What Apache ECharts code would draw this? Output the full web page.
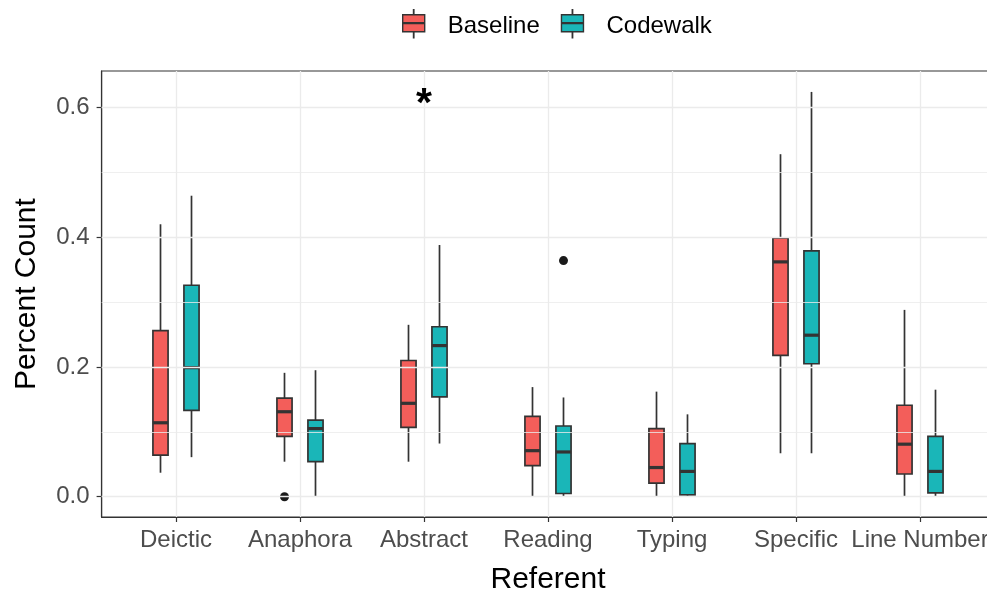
<!DOCTYPE html>
<html>
<head>
<meta charset="utf-8">
<script src="https://cdn.jsdelivr.net/npm/echarts@6/dist/echarts.min.js"></script>
<style>
html,body{margin:0;padding:0;background:#fff;}
#chart{width:987px;height:595px;}
</style>
</head>
<body>
<div id="chart"></div>
<script>
// ---- Data ----
const categories = ['Deictic', 'Anaphora', 'Abstract', 'Reading', 'Typing', 'Specific', 'Line Number'];
const seriesNames = ['Baseline', 'Codewalk'];
// five-number summaries per category: [lower whisker, Q1, median, Q3, upper whisker]
const baselineStats = [
  [0.037, 0.064, 0.114, 0.256, 0.420],
  [0.054, 0.093, 0.131, 0.152, 0.191],
  [0.054, 0.107, 0.144, 0.210, 0.265],
  [0.000, 0.048, 0.071, 0.124, 0.169],
  [0.000, 0.021, 0.045, 0.105, 0.162],
  [0.067, 0.218, 0.362, 0.399, 0.528],
  [0.000, 0.035, 0.081, 0.141, 0.288]
];
const codewalkStats = [
  [0.061, 0.133, 0.199, 0.326, 0.464],
  [0.000, 0.054, 0.105, 0.118, 0.195],
  [0.082, 0.154, 0.233, 0.262, 0.388],
  [0.000, 0.005, 0.069, 0.109, 0.153],
  [0.000, 0.003, 0.039, 0.082, 0.127],
  [0.067, 0.205, 0.249, 0.379, 0.624],
  [0.000, 0.006, 0.039, 0.093, 0.165]
];
// outliers: [category index, value]
const baselineOutliers = [[1, 0.000]];
const codewalkOutliers = [[3, 0.364]];
// annotation: [category index, value, text]
const annotations = [[2, 0.604, '*']];
const yTicks = [0, 0.2, 0.4, 0.6];
const yMinorTicks = [0.1, 0.3, 0.5];

// ---- Styling ----
const colors = ['#F35E5A', '#1AB6B8'];
const DODGE = 0.125;
const HALF = 0.061;
const LINE = '#333333';

function makeRender(offset) {
  return function (params, api) {
    const c = api.value(0) + offset;
    const lo = api.value(1), q1 = api.value(2), med = api.value(3), q3 = api.value(4), hi = api.value(5);
    const tl = api.coord([c - HALF, q3]);
    const br = api.coord([c + HALF, q1]);
    const mTop = api.coord([c, hi]);
    const mBot = api.coord([c, lo]);
    const medL = api.coord([c - HALF, med]);
    const medR = api.coord([c + HALF, med]);
    const fill = api.visual('color');
    return {
      type: 'group',
      children: [
        { type: 'line', shape: { x1: mTop[0], y1: mTop[1], x2: mTop[0], y2: tl[1] }, style: { stroke: LINE, lineWidth: 1.7 } },
        { type: 'line', shape: { x1: mBot[0], y1: br[1], x2: mBot[0], y2: mBot[1] }, style: { stroke: LINE, lineWidth: 1.7 } },
        { type: 'rect', shape: { x: tl[0], y: tl[1], width: br[0] - tl[0], height: br[1] - tl[1] }, style: { fill: fill, stroke: LINE, lineWidth: 1.7 } },
        { type: 'line', shape: { x1: medL[0], y1: medL[1], x2: medR[0], y2: medR[1] }, style: { stroke: LINE, lineWidth: 3.2 } }
      ]
    };
  };
}

function toData(stats) {
  return stats.map((s, i) => [i].concat(s));
}

const gridLines = []
  .concat(yTicks.map(v => ({ yAxis: v, lineStyle: { color: '#EBEBEB', width: 1.3, type: 'solid' } })))
  .concat(yMinorTicks.map(v => ({ yAxis: v, lineStyle: { color: '#EBEBEB', width: 0.8, type: 'solid' } })))
  .concat(categories.map((c, i) => ({ xAxis: i, lineStyle: { color: '#EBEBEB', width: 1.3, type: 'solid' } })));

const legendIcon = 'path://M0,5 L22,5 L22,22 L0,22 Z M0,13.1 L22,13.1 L22,13.9 L0,13.9 Z M10.8,0 L11.2,0 L11.2,5 L10.8,5 Z M10.8,22 L11.2,22 L11.2,28 L10.8,28 Z';

const chart = echarts.init(document.getElementById('chart'), null, { renderer: 'canvas' });
const option = {
  animation: false,
  backgroundColor: '#ffffff',
  textStyle: { fontFamily: '"Liberation Sans", Arial, Helvetica, sans-serif' },
  grid: {
    left: 101.6, top: 71, width: 892.8, height: 446,
    outerBoundsMode: 'none',
    containLabel: false,
    show: true, borderColor: LINE, borderWidth: 1.2, backgroundColor: 'transparent'
  },
  legend: {
    data: seriesNames,
    left: 402, top: 9, padding: 0,
    itemWidth: 22, itemHeight: 28, itemGap: 21,
    icon: legendIcon,
    itemStyle: { borderColor: LINE, borderWidth: 1.4 },
    formatter: name => '{t|' + name + '}',
    textStyle: {
      fontSize: 24, color: '#000', padding: [0, 0, 0, 18],
      rich: { t: { fontSize: 24, color: '#000', padding: [6, 0, 0, 0] } }
    },
    selectedMode: false
  },
  xAxis: {
    type: 'value',
    min: -0.6, max: 6.6,
    name: 'Referent',
    nameLocation: 'middle',
    nameGap: 48,
    nameTextStyle: { fontSize: 30, color: '#000' },
    axisLine: { show: true, onZero: false, lineStyle: { color: LINE, width: 1.2 } },
    axisTick: { show: true, length: 5, customValues: categories.map((c, i) => i), lineStyle: { color: LINE, width: 1.2 } },
    axisLabel: {
      show: true, customValues: categories.map((c, i) => i),
      formatter: v => categories[Math.round(v)] || '',
      fontSize: 24, color: '#4D4D4D', margin: 11
    },
    splitLine: { show: false }
  },
  yAxis: {
    type: 'value',
    min: -0.03125, max: 0.65625,
    name: 'Percent Count',
    nameLocation: 'middle',
    nameGap: 60,
    nameTextStyle: { fontSize: 30, color: '#000' },
    axisLine: { show: true, onZero: false, lineStyle: { color: LINE, width: 1.2 } },
    axisTick: { show: true, length: 5, customValues: yTicks, lineStyle: { color: LINE, width: 1.2 } },
    axisLabel: {
      show: true, customValues: yTicks,
      formatter: v => Number(v).toFixed(1),
      fontSize: 24, color: '#4D4D4D', margin: 12
    },
    splitLine: { show: false }
  },
  series: [
    {
      name: 'grid', type: 'line', data: [], z: 1, silent: true,
      markLine: { silent: true, symbol: 'none', label: { show: false }, animation: false, data: gridLines }
    },
    {
      name: seriesNames[0], type: 'custom', z: 3,
      itemStyle: { color: colors[0] },
      encode: { x: 0, y: [1, 2, 3, 4, 5] },
      renderItem: makeRender(-DODGE),
      data: toData(baselineStats)
    },
    {
      name: seriesNames[1], type: 'custom', z: 3,
      itemStyle: { color: colors[1] },
      encode: { x: 0, y: [1, 2, 3, 4, 5] },
      renderItem: makeRender(DODGE),
      data: toData(codewalkStats)
    },
    {
      name: 'outliers-baseline', type: 'scatter', z: 4, symbol: 'circle', symbolSize: 9,
      itemStyle: { color: '#1A1A1A', opacity: 1 },
      data: baselineOutliers.map(o => [o[0] - DODGE, o[1]])
    },
    {
      name: 'outliers-codewalk', type: 'scatter', z: 4, symbol: 'circle', symbolSize: 9,
      itemStyle: { color: '#1A1A1A', opacity: 1 },
      data: codewalkOutliers.map(o => [o[0] + DODGE, o[1]])
    },
    {
      name: 'annotation', type: 'custom', z: 5,
      encode: { x: 0, y: 1 },
      renderItem: function (params, api) {
        const p = api.coord([api.value(0), api.value(1)]);
        return {
          type: 'text',
          x: p[0], y: p[1],
          style: {
            text: annotations[params.dataIndex][2],
            fill: '#000000',
            font: 'bold 41px "Liberation Sans", Arial, sans-serif',
            align: 'center',
            verticalAlign: 'middle'
          }
        };
      },
      data: annotations.map(a => [a[0], a[1]])
    }
  ]
};
chart.setOption(option);
</script>
</body>
</html>
